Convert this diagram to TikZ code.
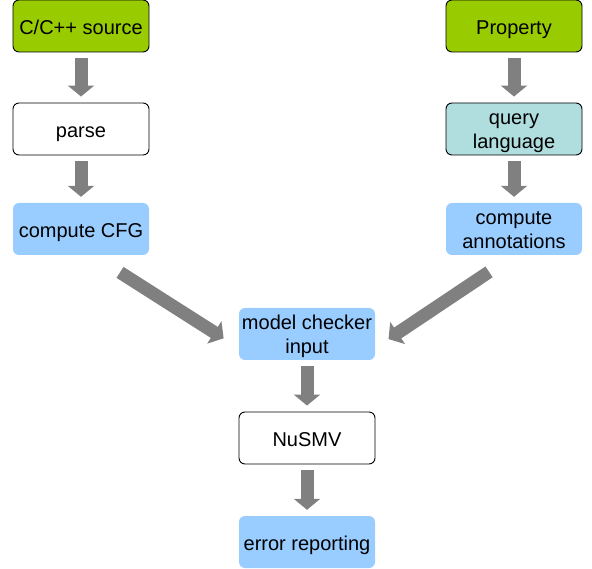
\documentclass[tikz,border=0pt]{standalone}
\usepackage{fontspec}
\setmainfont{Liberation Sans}
\usepackage{xcolor}
\usetikzlibrary{arrows.meta}

\definecolor{boxgreen}{RGB}{153,204,0}
\definecolor{boxblue}{RGB}{153,204,255}
\definecolor{boxteal}{RGB}{176,222,222}
\definecolor{arrowgray}{RGB}{128,128,128}

\tikzset{
    box/.style={rectangle, rounded corners=6pt, minimum width=136pt, minimum height=52pt,
        inner sep=0pt, align=center, font=\fontsize{20}{23.5}\selectfont,
        execute at begin node={\rule{0pt}{22pt}},
        execute at end node={\rule[-4.4pt]{0pt}{4.4pt}}},
    twoline/.style={text height=43.4pt, text depth=4.4pt},
    greenbox/.style={box, draw=black, line width=0.9pt, fill=boxgreen},
    whitebox/.style={box, draw=black, line width=0.9pt, fill=white},
    dotbox/.style={box, draw=black, line width=0.9pt, fill=boxteal},
    bluebox/.style={box, fill=boxblue},
    bigarrow/.style={draw=arrowgray, line width=13pt, shorten <=6pt, shorten >=6pt,
        -{Triangle[width=26pt,length=11pt]}}
}

\begin{document}
\begin{tikzpicture}[x=1pt,y=-1pt]
        \useasboundingbox (0,0) rectangle (592,569);

        % 左边一列
        \node (src) at (81,26) [greenbox] {C/C++ source};
        \node (parse) at (81,129) [whitebox] {parse};
        \node (cfg) at (81,229) [bluebox] {compute CFG};

        % 右边一列
        \node (prop) at (514,26) [greenbox] {Property};
        \node (query) at (514,129) [dotbox, twoline] {query\\language};
        \node (annot) at (514,229) [bluebox, twoline] {compute\\annotations};

        % 中间一列
        \node (mci) at (307,334) [bluebox, twoline] {model checker\\input};
        \node (nusmv) at (307,438) [whitebox] {NuSMV};
        \node (err) at (307,542) [bluebox] {error reporting};

        % 箭头
        \draw [bigarrow] (src) -- (parse);
        \draw [bigarrow] (parse) -- (cfg);
        \draw [bigarrow] (prop) -- (query);
        \draw [bigarrow] (query) -- (annot);
        \draw [bigarrow, shorten <=32pt, shorten >=18pt] ([xshift=12pt]cfg.south) -- ([yshift=-14pt]mci.west);
        \draw [bigarrow, shorten <=30pt, shorten >=16pt] (annot.south) -- ([yshift=-14pt]mci.east);
        \draw [bigarrow] (mci) -- (nusmv);
        \draw [bigarrow] (nusmv) -- (err);
    \end{tikzpicture}
\end{document}
